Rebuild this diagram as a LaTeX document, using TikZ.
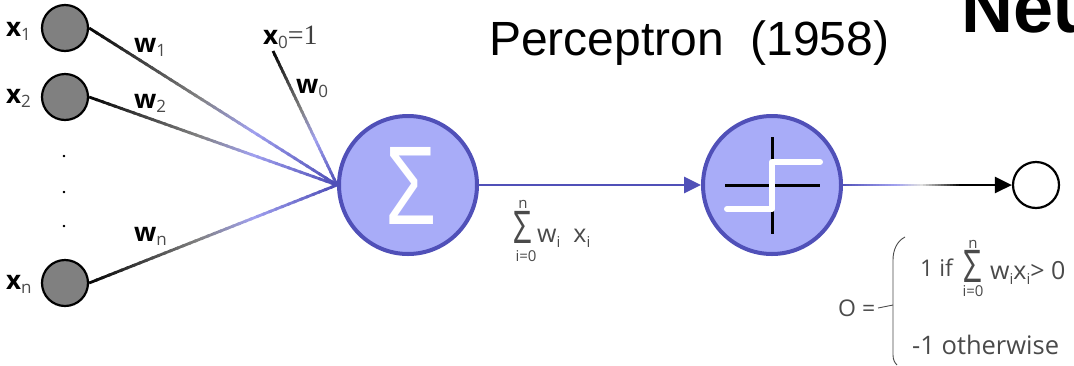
\documentclass[tikz,border=0pt]{standalone}
\usepackage{amsmath}
\usepackage{xcolor}
\usepackage{fontspec}
\setmainfont{Open Sans}
\newfontfamily\titlefont{Liberation Sans}
\newfontfamily\eqfont{Liberation Serif}
\usetikzlibrary{calc, arrows.meta}

\definecolor{edgeblue}{HTML}{5050B8}
\definecolor{fillblue}{HTML}{A8ACF8}
\definecolor{lavender}{HTML}{A0A0EE}
\definecolor{greytext}{HTML}{4A4A4A}
\definecolor{midgrey}{HTML}{808080}
\definecolor{palegrey}{HTML}{E0E0E0}

% x{1} style label: bold letter, light subscript
\newcommand{\weightlabel}[2]{\textbf{#1}\raisebox{-4pt}{\fontsize{17}{17}\selectfont\color{greytext}#2}}
\newcommand{\sublabel}[2]{#1\raisebox{-5pt}{\fontsize{15}{15}\selectfont #2}}

% line from node to node whose colour runs through four stops
\newcommand{\fadeedge}[6]{
  \foreach \k in {1,...,40} {
    \pgfmathsetmacro{\ta}{(\k-1)/40}
    \pgfmathsetmacro{\tb}{min(1,(\k+0.4)/40)}
    \ifnum\k<19
      \pgfmathsetmacro{\mixp}{100*\k/18}
      \colorlet{segcol}{#4!\mixp!#3}
    \else\ifnum\k<28
      \pgfmathsetmacro{\mixp}{100*(\k-18)/9}
      \colorlet{segcol}{#5!\mixp!#4}
    \else
      \pgfmathsetmacro{\mixp}{100*(\k-27)/13}
      \colorlet{segcol}{#6!\mixp!#5}
    \fi\fi
    \draw[edgeline, segcol] ($(#1)!\ta!(#2)$) -- ($(#1)!\tb!(#2)$);
  }
}

\tikzset{
  edgeline/.style={line width=2.8pt},
  inputdot/.style={circle, draw=black, line width=2.2pt, fill=black!50, minimum size=46pt, inner sep=0pt},
  bigunit/.style={circle, draw=edgeblue, line width=4pt, fill=fillblue, minimum size=138pt, inner sep=0pt},
  lab/.style={anchor=base west, inner sep=0pt, font=\fontsize{26}{28}\selectfont},
  thinlab/.style={anchor=base west, inner sep=0pt, text=greytext, font=\fontsize{25}{27}\selectfont},
  tinylab/.style={anchor=base, inner sep=0pt, text=greytext, font=\fontsize{15}{16}\selectfont},
  sumsign/.style={anchor=base, inner sep=0pt, text=greytext, xscale=0.72, font=\fontsize{45}{45}\selectfont}
}

\begin{document}
\begin{tikzpicture}[x=1pt, y=-1pt]
  \useasboundingbox (0,0) rectangle (1074,365);
  \clip (0,0) rectangle (1074,365);

  % Titles
  \node[anchor=base west, inner sep=0pt, font=\titlefont\fontsize{48}{50}\selectfont] (title) at (489,55) {Perceptron\ \ (1958)};
  \node[anchor=base west, inner sep=0pt, font=\titlefont\bfseries\fontsize{72}{75}\selectfont] (neu) at (961,32) {Neu};

  % Inputs
  \node[inputdot] (in1) at (65,28) {};
  \node[inputdot] (in2) at (65,97) {};
  \node[inputdot] (inn) at (65,283) {};
  \foreach \y in {155,191,225} {
    \node[anchor=base, inner sep=0pt, font=\bfseries\fontsize{14}{14}\selectfont] at (64,\y+2) {.};
  }
  \node[lab] (labx1) at (6,36) {\weightlabel{x}{1}};
  \node[lab] (labx2) at (6,103) {\weightlabel{x}{2}};
  \node[lab] (labxn) at (6,289) {\weightlabel{x}{n}};
  \node[lab] (labx0) at (263,44) {\weightlabel{x}{0}{\eqfont\fontsize{28}{28}\selectfont\color{black!75}=1}};
  \coordinate (bias) at (273,51);

  % Units
  \node[bigunit] (sum) at (408,185) {};
  \node[bigunit] (step) at (772,185) {};
  \node[circle, draw=black, line width=2.2pt, fill=white, minimum size=46pt, inner sep=0pt] (out) at (1036,185) {};
  \node[text=white, inner sep=0pt, xscale=0.74, font=\titlefont\fontsize{112}{112}\selectfont] (sigma) at (411,186) {Σ};

  % Step function
  \coordinate (stepl) at (725,185);
  \coordinate (stepr) at (820,185);
  \coordinate (stept) at (772,137);
  \coordinate (stepb) at (772,234);
  \draw[black, line width=3pt] (stepl) -- (stepr);
  \draw[black, line width=3pt] (stept) -- (stepb);
  \draw[white, line width=6pt, line cap=round, line join=round] (727,209) -- (772,209) -- (772,162) -- (820,162);

  % Connectors
  \fadeedge{in1.east}{sum.west}{black}{midgrey}{lavender}{edgeblue}
  \fadeedge{in2.east}{sum.west}{black}{midgrey}{lavender}{edgeblue}
  \fadeedge{inn.east}{sum.west}{black}{midgrey}{lavender}{edgeblue}
  \fadeedge{bias}{sum.west}{black}{midgrey}{lavender}{edgeblue}
  \draw[edgeline, edgeblue, -{Triangle[length=17pt, width=16pt]}] (sum.east) -- (step.west);
  \coordinate (fadeend) at (962,185);
  \fadeedge{step.east}{fadeend}{edgeblue}{lavender}{palegrey}{black}
  \draw[edgeline, black, -{Triangle[length=17pt, width=16pt]}] (fadeend) -- (out.west);

  % Weights
  \node[lab] (labw1) at (134,52) {\weightlabel{w}{1}};
  \node[lab] (labw2) at (134,108) {\weightlabel{w}{2}};
  \node[lab] (labwn) at (134,241) {\weightlabel{w}{n}};
  \node[lab] (labw0) at (296,93) {\weightlabel{w}{0}};

  % Sum below the line
  \node[sumsign] (bigsum) at (523,243) {Σ};
  \node[tinylab] (sumtop) at (523,208) {n};
  \node[tinylab] (sumbot) at (526,261) {i=0};
  \node[thinlab] (sumterm) at (537,242) {\sublabel{w}{i}\ \ \sublabel{x}{i}};

  % Output rule
  \node[thinlab, font=\fontsize{23}{25}\selectfont] (oeq) at (838,316) {O =};
  \draw[greytext, line width=0.9pt] (878,308) -- (893,305);
  \draw[greytext, line width=0.9pt] (905,237) .. controls (897,241) and (893,250) .. (893,260) -- (893,355) .. controls (893,360) and (895,363) .. (897,365);
  \node[thinlab, font=\fontsize{23}{25}\selectfont] (ifone) at (920,276) {1 if};
  \node[sumsign] (ifsum) at (973,282) {Σ};
  \node[tinylab] (iftop) at (973,248) {n};
  \node[tinylab] (ifbot) at (973,296) {i=0};
  \node[thinlab] (ifterm) at (990,279) {\sublabel{w}{i}\sublabel{x}{i}> 0};
  \node[thinlab, font=\fontsize{25.5}{27}\selectfont] (other) at (912,354) {-1 otherwise};
\end{tikzpicture}
\end{document}
